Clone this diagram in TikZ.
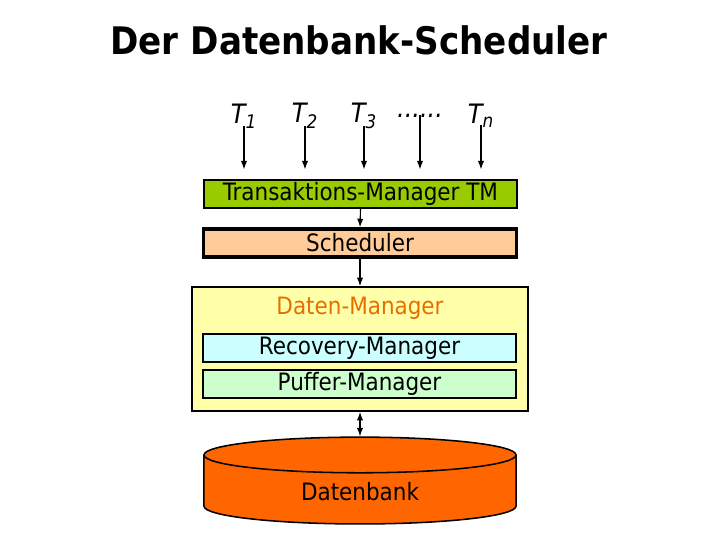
\documentclass[tikz,border=0pt]{standalone}
\usepackage{fontspec}
\setmainfont{DejaVu Sans Condensed}
\usetikzlibrary{arrows.meta, positioning, shapes.geometric}
\definecolor{tm-green}{RGB}{153, 204, 0}
\definecolor{sched-peach}{RGB}{255, 204, 153}
\definecolor{dm-yellow}{RGB}{255, 255, 170}
\definecolor{dm-orange}{RGB}{228, 112, 0}
\definecolor{rec-cyan}{RGB}{204, 255, 255}
\definecolor{puf-green}{RGB}{204, 255, 204}
\definecolor{db-orange}{RGB}{255, 102, 0}

\begin{document}
\begin{tikzpicture}[x=0.025cm, y=-0.025cm,
  layer/.style={rectangle, draw=black, line width=1.1pt, minimum width=7.83cm,
                minimum height=0.7cm, inner sep=0pt, font=\fontsize{17}{20}\selectfont},
  tx/.style={font=\fontsize{19}{22}\selectfont\itshape, inner sep=1pt},
  arr/.style={-{Latex[length=6pt,width=4.5pt]}, line width=0.8pt},
  darr/.style={{Latex[length=6pt,width=4.5pt]}-{Latex[length=6pt,width=4.5pt]}, line width=0.8pt}
]
  \useasboundingbox (0,0) rectangle (720,540);

  \node[font=\fontsize{27}{32}\selectfont\bfseries] (title) at (359,40) {Der Datenbank-Scheduler};

  % transactions
  \node[tx] (t1) at (244,116) {T\textsubscript{1}};
  \node[tx] (t2) at (305,116) {T\textsubscript{2}};
  \node[tx] (t3) at (364,116) {T\textsubscript{3}};
  \node[tx] (tdots) at (420,116) {......};
  \node[tx] (tn) at (481,116) {T\textsubscript{n}};

  % layers
  \node[layer, fill=tm-green] (tm) at (360.5,194) {Transaktions-Manager TM};
  \node[layer, fill=sched-peach, line width=2.6pt] (sch) at (360,243) {Scheduler};
  \node[rectangle, draw=black, line width=1.3pt, fill=dm-yellow,
        minimum width=8.4cm, minimum height=3.1cm] (dm) at (360,349) {};
  \node[font=\fontsize{17}{20}\selectfont, text=dm-orange] (dmlbl) at (360,308) {Daten-Manager};
  \node[layer, fill=rec-cyan] (rec) at (359.5,348) {Recovery-Manager};
  \node[layer, fill=puf-green] (puf) at (359.5,384) {Puffer-Manager};
  \node[cylinder, shape border rotate=90, draw=black, line width=1.1pt, fill=db-orange,
        minimum width=7.8cm, minimum height=2.17cm, aspect=0.28,
        font=\fontsize{17}{20}\selectfont] (db) at (360,492) {Datenbank};

  \foreach \t in {t1,t2,t3,tdots,tn}
    \draw[arr, shorten <=-3pt] (\t.south) -- ([yshift=7pt]\t |- tm.north);
  \draw[arr] (tm.south) -- (sch.north);
  \draw[arr] (sch.south) -- (dm.north);
  \draw[darr] (dm.south) -- (db.top);
\end{tikzpicture}
\end{document}
